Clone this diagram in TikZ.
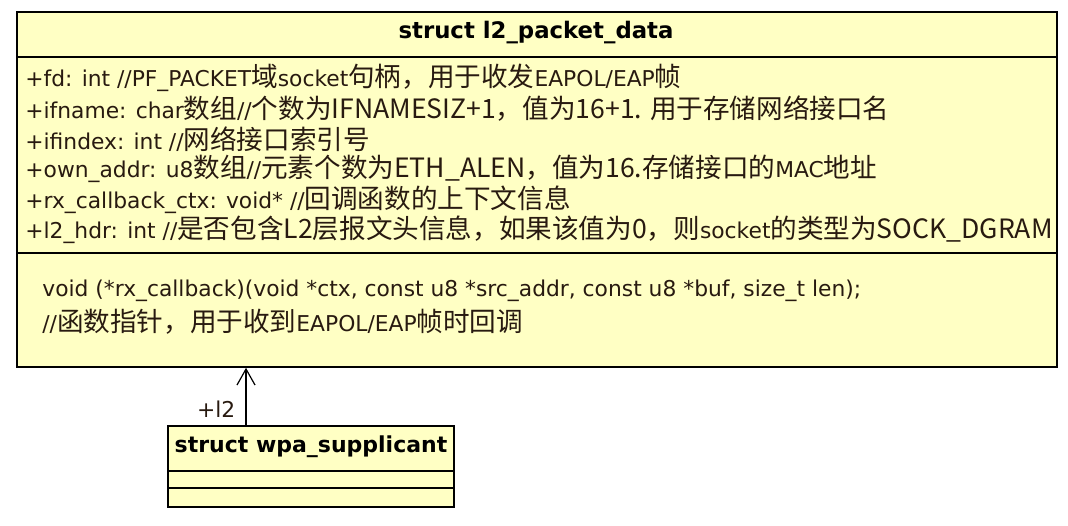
\documentclass[tikz,border=0pt]{standalone}
\usepackage{fontspec}
\setmainfont{DejaVu Sans}
\newfontfamily\cjk[Scale=1.22]{Noto Sans CJK SC}
\newcommand{\zhs}[1]{{\cjk #1}}
\usepackage{tikz}
\usetikzlibrary{arrows.meta}

\definecolor{umlfill}{RGB}{255,255,196}
\definecolor{ink}{RGB}{40,26,16}

\tikzset{
  classbox/.style={draw=black, line width=0.9pt, fill=umlfill, inner sep=0pt},
  member/.style={anchor=west, inner sep=0pt, text=ink, font=\fontsize{10.9pt}{13pt}\selectfont},
  classname/.style={inner sep=0pt, text=black, font=\fontsize{11.4pt}{13pt}\selectfont\bfseries}
}

\begin{document}
\begin{tikzpicture}[x=0.5pt, y=-0.5pt]
        \useasboundingbox[fill=white] (0,0) rectangle (1068,525);

        \node[classbox, anchor=north west, minimum width=520pt, minimum height=177.5pt] (pkt) at (16,11) {};
        \draw[line width=0.9pt] (16,57) -- (1056,57);
        \draw[line width=0.9pt] (16,253) -- (1056,253);

        \node[classname] (pkttitle) at (536,33) {struct l2\_packet\_data};

        \node[member] (fd) at (25,78) {+fd: int //PF\_PACKET\zhs{域}socket\zhs{句柄，用于收发}EAPOL/EAP\zhs{帧}};
        \node[member] (ifname) at (25,108.4) {+ifname: char\zhs{数组}//\zhs{个数为IFNAMESIZ+1，值为16+1. 用于存储网络接口名}};
        \node[member] (ifindex) at (25,138.8) {+ifindex: int //\zhs{网络接口索引号}};
        \node[member] (ownaddr) at (25,169.2) {+own\_addr: u8\zhs{数组}//\zhs{元素个数为ETH\_ALEN，值为16.存储接口的}MAC\zhs{地址}};
        \node[member] (rxctx) at (25,199.6) {+rx\_callback\_ctx: void* //\zhs{回调函数的上下文信息}};
        \node[member] (l2hdr) at (25,230) {+l2\_hdr: int //\zhs{是否包含L2层报文头信息，如果该值为0，则}socket\zhs{的类型为SOCK\_DGRAM}};

        \node[member] (rxcb) at (42,291) {void (*rx\_callback)(void *ctx, const u8 *src\_addr, const u8 *buf, size\_t len);};
        \node[member] (rxcbnote) at (42,322) {//\zhs{函数指针，用于收到}EAPOL/EAP\zhs{帧时回调}};

        \node[classbox, anchor=north west, minimum width=143pt, minimum height=40.5pt] (wpa) at (167,425) {};
        \draw[line width=0.9pt] (167,471) -- (453,471);
        \draw[line width=0.9pt] (167,488) -- (453,488);
        \node[classname, font=\fontsize{11pt}{13pt}\selectfont\bfseries] (wpatitle) at (311,447) {struct wpa\_supplicant};

        \draw[line width=0.8pt, -{Straight Barb[length=8pt, width=9pt, line width=0.6pt]}]
          ([xshift=39.5pt]wpa.north west) -- node[member, pos=0.27, anchor=east, xshift=-5pt] (l2) {+l2} ([xshift=115pt]pkt.south west);
      \end{tikzpicture}
\end{document}
